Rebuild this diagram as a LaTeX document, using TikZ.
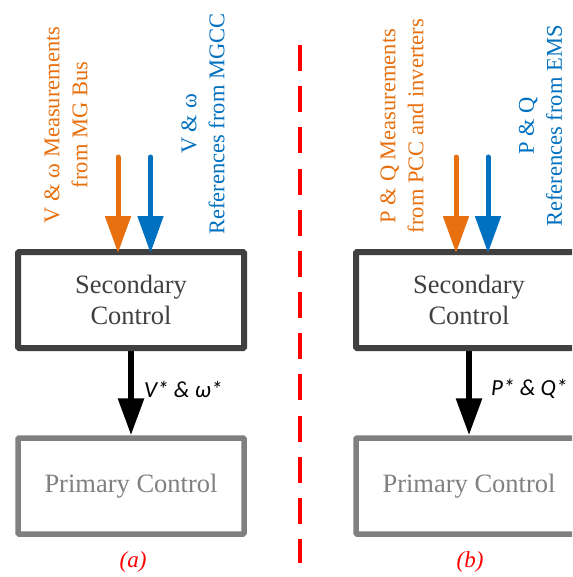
\documentclass[tikz,border=0pt]{standalone}
\usepackage{fontspec}
\setmainfont{Liberation Serif}
\newfontfamily\lblfont{Carlito}
\usetikzlibrary{arrows.meta}
\definecolor{myorange}{HTML}{E8700F}
\definecolor{myblue}{HTML}{0070C0}
\definecolor{secgray}{HTML}{404040}
\definecolor{prigray}{HTML}{808080}
\definecolor{myred}{HTML}{FF0000}
\tikzset{
  secbox/.style={draw=secgray, line width=6pt, rounded corners=1pt, minimum width=226pt, minimum height=96pt, align=center, text=secgray, font=\rmfamily\fontsize{26.5}{31}\selectfont, inner sep=0pt},
  pribox/.style={draw=prigray, line width=5.5pt, rounded corners=1pt, minimum width=226pt, minimum height=96pt, align=center, text=prigray, font=\rmfamily\fontsize{26.5}{31}\selectfont, inner sep=0pt},
  inarrow/.style={line width=5pt, line cap=round, -{Triangle[width=25pt,length=37pt]}},
  outarrow/.style={line width=6pt, -{Triangle[width=25pt,length=37pt]}},
  vlabel/.style={rotate=90, align=center, font=\rmfamily\fontsize{22.5}{28}\selectfont, inner sep=0pt},
  siglabel/.style={anchor=west, font=\lblfont\itshape\fontsize{23}{27}\selectfont, inner sep=0pt},
  caplabel/.style={text=myred, font=\rmfamily\itshape\fontsize{23}{27}\selectfont, inner sep=0pt},
  sep/.style={draw=myred, line width=3.5pt, dash pattern=on 26pt off 15.17pt}
}
\begin{document}
\begin{tikzpicture}[x=1pt,y=-1pt]
\useasboundingbox (0,0) rectangle (572,577);
\clip (0,0) rectangle (572,577);
\fill[white] (0,0) rectangle (572,577);
% (a)
\node[secbox] (secA) at (131,300) {Secondary\\Control};
\node[pribox] (priA) at (131,486) {Primary Control};
\draw[outarrow] (secA.south) -- (priA.north);
\node[siglabel] (sigA) at (144,389) {V* \& ω*};
\coordinate (oA) at (118,157);
\coordinate (bA) at (150.5,157);
\draw[inarrow, myorange] (oA) -- ([yshift=-4pt]oA |- secA.north);
\draw[inarrow, myblue] (bA) -- ([yshift=-4pt]bA |- secA.north);
\node[vlabel, text=myorange] (tOA) at (66,125) {V \& ω Measurements\\from MG Bus};
\node[vlabel, text=myblue] (tBA) at (203,124) {V \& ω\\References from MGCC};
\node[caplabel] (capA) at (133,562) {(a)};
% separator
\coordinate (s1) at (300,45);
\coordinate (s2) at (300,563);
\draw[sep] (s1) -- (s2);
% (b)
\node[secbox] (secB) at (469,300) {Secondary\\Control};
\node[pribox] (priB) at (469,486) {Primary Control};
\draw[outarrow] (secB.south) -- (priB.north);
\node[siglabel] (sigB) at (491,389) {P* \& Q*};
\coordinate (oB) at (456,157);
\coordinate (bB) at (488,157);
\draw[inarrow, myorange] (oB) -- ([yshift=-4pt]oB |- secB.north);
\draw[inarrow, myblue] (bB) -- ([yshift=-4pt]bB |- secB.north);
\node[vlabel, text=myorange] (tOB) at (402,126) {P \& Q Measurements\\from PCC and inverters};
\node[vlabel, text=myblue] (tBB) at (540.5,126) {P \& Q\\References from EMS};
\node[caplabel] (capB) at (470,562) {(b)};
\end{tikzpicture}
\end{document}
